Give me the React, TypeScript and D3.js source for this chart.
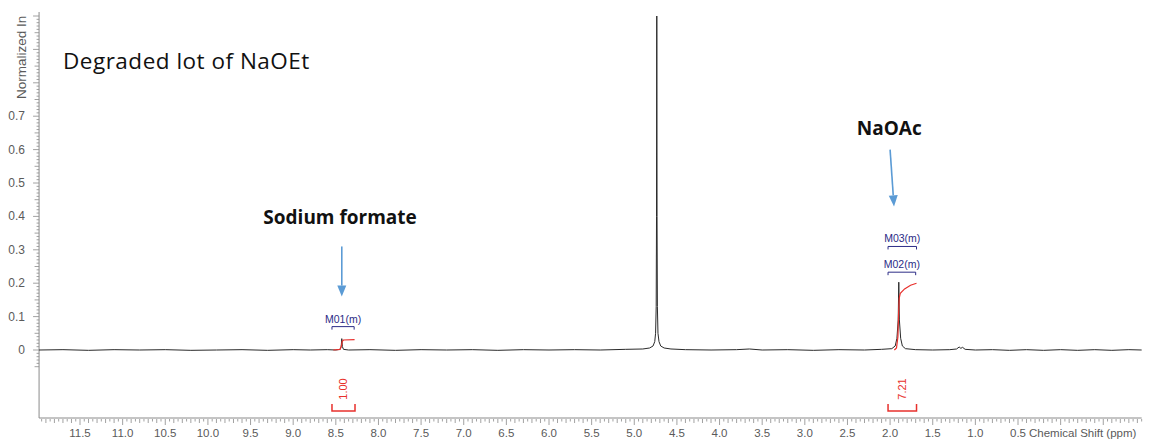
import React from 'react';
import * as d3 from 'd3';

const W = 1149;
const H = 440;

// Spectrum trace: [ppm, normalized intensity]
const spectrum: [number, number][] = [
  [11.98, 0.0], [11.7, 0.001], [11.4, -0.001], [11.1, 0.001], [10.8, 0.0], [10.5, 0.001],
  [10.2, -0.001], [9.9, 0.0], [9.6, 0.001], [9.3, -0.001], [9.0, 0.001], [8.8, 0.0],
  [8.6, 0.001], [8.5, 0.0], [8.45, 0.002], [8.437, 0.01], [8.43, 0.034], [8.423, 0.01],
  [8.41, 0.002], [8.35, 0.0], [8.1, 0.001], [7.8, -0.001], [7.5, 0.001], [7.2, 0.0],
  [6.9, 0.001], [6.6, -0.001], [6.3, 0.001], [6.0, 0.0], [5.7, 0.001], [5.4, 0.0],
  [5.1, 0.002], [4.9, 0.003], [4.82, 0.006], [4.78, 0.012], [4.76, 0.025], [4.75, 0.05],
  [4.743, 0.13], [4.739, 0.4], [4.736, 1.0], [4.733, 0.4], [4.729, 0.13], [4.722, 0.05],
  [4.71, 0.025], [4.69, 0.012], [4.65, 0.006], [4.57, 0.003], [4.4, 0.001], [4.1, 0.0],
  [3.8, 0.001], [3.65, 0.003], [3.5, 0.0], [3.2, 0.001], [2.9, -0.001], [2.6, 0.001],
  [2.3, 0.0], [2.1, 0.002], [1.98, 0.004], [1.94, 0.012], [1.92, 0.035], [1.905, 0.09],
  [1.898, 0.203], [1.891, 0.09], [1.876, 0.035], [1.856, 0.012], [1.82, 0.004], [1.7, 0.001],
  [1.5, 0.0], [1.3, 0.001], [1.22, 0.003], [1.19, 0.009], [1.17, 0.005], [1.15, 0.008],
  [1.12, 0.002], [1.0, 0.0], [0.8, 0.001], [0.6, -0.001], [0.4, 0.001], [0.2, -0.001],
  [0.0, 0.001], [-0.2, -0.001], [-0.4, 0.001], [-0.6, -0.001], [-0.8, 0.001], [-0.95, 0.0],
];

// Integral curves (red)
const integralFormate: [number, number][] = [
  [8.53, 0.0], [8.45, 0.002], [8.435, 0.012], [8.425, 0.026], [8.41, 0.03], [8.28, 0.031],
];
const integralAcetate: [number, number][] = [
  [1.95, 0.0], [1.925, 0.006], [1.908, 0.04], [1.9, 0.11], [1.893, 0.155], [1.88, 0.17],
  [1.83, 0.183], [1.76, 0.194], [1.69, 0.2],
];

const xTickLabels = ['11.5', '11.0', '10.5', '10.0', '9.5', '9.0', '8.5', '8.0', '7.5', '7.0', '6.5', '6.0', '5.5', '5.0', '4.5', '4.0', '3.5', '3.0', '2.5', '2.0', '1.5', '1.0', '0.5'];
const yTickLabels = ['0', '0.1', '0.2', '0.3', '0.4', '0.5', '0.6', '0.7'];

// Integration regions [from ppm, to ppm] and values
const integralRanges: [number, number][] = [[8.545, 8.275], [2.024, 1.69]];
const integralValues = ['1.00', '7.21'];

// Multiplet labels, ranges and levels
const multipletNames = ['M01(m)', 'M02(m)', 'M03(m)'];
const multipletRanges: [number, number][] = [[8.545, 8.285], [2.024, 1.7], [2.024, 1.69]];
const multipletLevels = [0.07, 0.233, 0.31];

const x = d3.scaleLinear().domain([11.5, 0.5]).range([80, 1018]);
const y = d3.scaleLinear().domain([0, 1]).range([350, 16]);

const X_MIN = 11.98;
const X_MAX = -0.95;
const AXIS_Y = 418;
const AXIS_X = x(X_MIN);

export default function App() {
  const line = d3.line<[number, number]>().x((d) => x(d[0])).y((d) => y(d[1]));

  const xTicks: { p: number; len: number }[] = [];
  for (let i = 0; i <= 258; i++) {
    const p = Math.round((11.95 - i * 0.05) * 100) / 100;
    if (p < X_MAX) break;
    const k = Math.round(p * 100);
    const len = k % 50 === 0 ? 6 : k % 10 === 0 ? 4 : 2.5;
    xTicks.push({ p, len });
  }
  const yTicks: { v: number; len: number }[] = [];
  for (let i = -5; i <= 100; i++) {
    const v = i / 100;
    const len = i % 10 === 0 ? 6 : i % 5 === 0 ? 4.5 : 2.5;
    yTicks.push({ v, len });
  }

  const axisColor = '#8a8a8a';
  const labelColor = '#5a5a5a';
  const red = '#e8302c';
  const navy = '#2b2b86';
  const blue = '#5b9bd5';

  const arrow = (x1: number, y1: number, x2: number, y2: number, key: string) => {
    const ang = Math.atan2(y2 - y1, x2 - x1);
    const hl = 11;
    const hw = 4.5;
    const bx = x2 - hl * Math.cos(ang);
    const by = y2 - hl * Math.sin(ang);
    const px = -Math.sin(ang) * hw;
    const py = Math.cos(ang) * hw;
    return (
      <g key={key}>
        <line x1={x1} y1={y1} x2={bx} y2={by} stroke={blue} strokeWidth={1.6} />
        <path d={`M${x2},${y2} L${bx + px},${by + py} L${bx - px},${by - py} Z`} fill={blue} />
      </g>
    );
  };

  return (
    <svg width={W} height={H} style={{ position: 'absolute', left: 0, top: 0, background: '#fff' }}>
      <rect x={0} y={0} width={W} height={H} fill="#fff" />

      {/* left axis */}
      <line x1={AXIS_X} y1={12} x2={AXIS_X} y2={AXIS_Y} stroke={axisColor} strokeWidth={1} />
      {yTicks.map((t, i) => (
        <line key={'yt' + i} x1={AXIS_X - t.len} x2={AXIS_X} y1={y(t.v)} y2={y(t.v)} stroke={axisColor} strokeWidth={0.8} />
      ))}
      {yTickLabels.map((l) => (
        <text key={'yl' + l} x={25} y={y(+l) + 4} textAnchor="end" fontFamily="Liberation Sans, Arial, sans-serif" fontSize={12} fill={labelColor}>
          {l}
        </text>
      ))}
      <text transform={`translate(26,99) rotate(-90)`} fontFamily="Liberation Sans, Arial, sans-serif" fontSize={13.5} fill={labelColor}>
        Normalized In
      </text>

      {/* bottom axis */}
      <line x1={AXIS_X} y1={AXIS_Y} x2={x(X_MAX)} y2={AXIS_Y} stroke={axisColor} strokeWidth={1} />
      {xTicks.map((t, i) => (
        <line key={'xt' + i} x1={x(t.p)} x2={x(t.p)} y1={AXIS_Y + 1} y2={AXIS_Y + 1 + t.len} stroke={axisColor} strokeWidth={0.8} />
      ))}
      {xTickLabels.map((l) => (
        <text key={'xl' + l} x={x(+l)} y={437} textAnchor="middle" fontFamily="Liberation Sans, Arial, sans-serif" fontSize={11.5} fill={labelColor}>
          {l}
        </text>
      ))}
      <text x={1029} y={437} fontFamily="Liberation Sans, Arial, sans-serif" fontSize={11.5} fill={labelColor}>
        Chemical Shift (ppm)
      </text>

      {/* spectrum */}
      <path d={line(spectrum) || ''} fill="none" stroke="#2a2a2a" strokeWidth={1} />
      <path d={line(integralFormate) || ''} fill="none" stroke={red} strokeWidth={1.2} />
      <path d={line(integralAcetate) || ''} fill="none" stroke={red} strokeWidth={1.2} />

      {/* multiplet labels */}
      {multipletNames.map((name, i) => {
        const [a, b] = multipletRanges[i];
        const by = y(multipletLevels[i]);
        const cx = (x(a) + x(b)) / 2;
        return (
          <g key={name}>
            <text x={cx} y={by - 4} textAnchor="middle" fontFamily="Liberation Sans, Arial, sans-serif" fontSize={10.5} fill={navy}>
              {name}
            </text>
            <path d={`M${x(a)},${by + 3} V${by} H${x(b)} V${by + 3}`} fill="none" stroke={navy} strokeWidth={1} />
          </g>
        );
      })}

      {/* integral labels */}
      {integralValues.map((v, i) => {
        const [a, b] = integralRanges[i];
        const cx = (x(a) + x(b)) / 2;
        return (
          <g key={'int' + v}>
            <path d={`M${x(a)},404 V411 H${x(b)} V404`} fill="none" stroke={red} strokeWidth={1.5} />
            <text transform={`translate(${cx + 4},389) rotate(-90)`} textAnchor="middle" fontFamily="Liberation Sans, Arial, sans-serif" fontSize={11} fill={red}>
              {v}
            </text>
          </g>
        );
      })}

      {/* annotations */}
      <text x={63} y={69} fontFamily="Open Sans, sans-serif" fontSize={22.5} letterSpacing={0.5} fill="#111">
        Degraded lot of NaOEt
      </text>
      <text x={x(2.01)} y={y(0.644)} textAnchor="middle" fontFamily="Open Sans, sans-serif" fontWeight="bold" fontSize={19} fill="#111">
        NaOAc
      </text>
      <text x={x(8.45)} y={y(0.377)} textAnchor="middle" fontFamily="Open Sans, sans-serif" fontWeight="bold" fontSize={19} fill="#111">
        Sodium formate
      </text>
      {arrow(x(8.43), y(0.31), x(8.43), y(0.16), 'a1')}
      {arrow(x(2.0), y(0.6), x(1.954), y(0.43), 'a2')}
    </svg>
  );
}
